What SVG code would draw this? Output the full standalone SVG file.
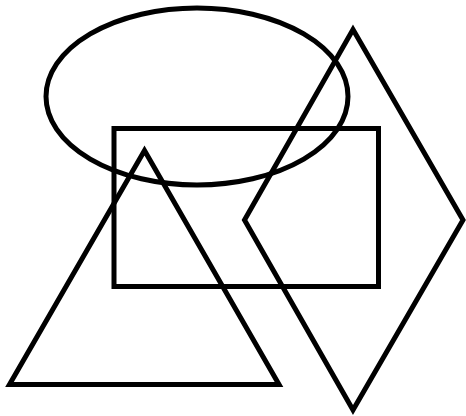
<svg xmlns="http://www.w3.org/2000/svg" width="466" height="416" viewBox="0 0 466 416">
<style>
.s{fill:none;stroke:#000;stroke-width:5;stroke-miterlimit:10}
</style>
<rect width="466" height="416" fill="#fff"/>
<g id="ellipse"><ellipse class="s" cx="197" cy="96.5" rx="151" ry="88.5"/></g>
<g id="rectangle"><rect class="s" x="114" y="128.5" width="264.5" height="158"/></g>
<g id="triangle"><polygon class="s" points="144.5,150.5 279,384.5 9.5,384.5"/></g>
<g id="diamond"><polygon class="s" points="353,29.5 463,220 353,410 244.5,220"/></g>
<g id="connectors"></g>
</svg>
